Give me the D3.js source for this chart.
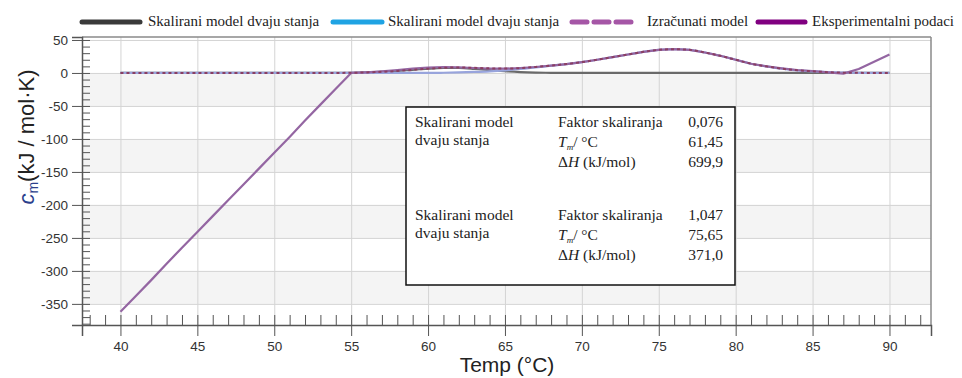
<!DOCTYPE html>
<html><head><meta charset="utf-8">
<script src="https://cdn.jsdelivr.net/npm/d3@7"></script>
<style>
html,body{margin:0;padding:0;background:#fff;}
svg{display:block;}
</style></head>
<body>
<svg id="chart" width="962" height="378"></svg>
<script>
// ---------- data ----------
const temps = [40,41,42,43,44,45,46,47,48,49,50,51,52,53,54,55,56,57,58,59,60,61,62,63,64,65,66,67,68,69,70,71,72,73,74,75,76,77,78,79,80,81,82,83,84,85,86,87,88,89,90];
const model1 = [0,0,0,0,0,0,0,0,0,0,0,0,0,0,0,0.3,0.8,1.7,3,4.8,6.5,7.5,7.5,6.3,4.5,2.7,1.4,0.6,0.2,0,0,0,0,0,0,0,0,0,0,0,0,0,0,0,0,0,0,0,0,0,0];
const model2 = [0,0,0,0,0,0,0,0,0,0,0,0,0,0,0,0,0,0,0,0,0,0.3,0.8,1.5,2.5,4,6,8.5,11,13.5,16.5,20,24,28,32,35,36,35,31,26,20,14,10,6.5,4,2.5,1.2,0.5,0.2,0,0];
const calcModel = [0,0,0,0,0,0,0,0,0,0,0,0,0,0,0,0.3,0.8,1.7,3,4.8,6.5,7.8,8.3,7.8,7,6.7,7.4,9.1,11.2,13.5,16.5,20,24,28,32,35,36,35,31,26,20,14,10,6.5,4,2.5,1.2,0.5,0.2,0,0];
const experimental = [-362,-338,-314,-289,-265,-241,-217,-193,-169,-145,-121,-97,-72,-48,-24,0,1,2.5,4.5,6.5,8,9,8.5,7.5,6.5,6.5,7.5,9,11,13.5,16.5,20,24,28,32,35,36,35,31,26,20,14,10,7,4.5,3,1,-1,6,17,28];

const xTicks = [40,45,50,55,60,65,70,75,80,85,90];
const yTicks = [50,0,-50,-100,-150,-200,-250,-300,-350];
const legendLabels = ["Skalirani model dvaju stanja","Skalirani model dvaju stanja","Izračunati model","Eksperimentalni podaci"];

const box1Values = ["0,076","61,45","699,9"];
const box2Values = ["1,047","75,65","371,0"];

// ---------- layout ----------
const svg = d3.select("#chart");
const L = 82, R = 931, T = 37, B = 325;
const x = d3.scaleLinear().domain([37.5, 92.7]).range([L, R]);
const y = d3.scaleLinear().domain([-382, 54.5]).range([B, T]);

// background bands
const bands = [[0,-50],[-100,-150],[-200,-250],[-300,-350]];
svg.append("g").selectAll("rect").data(bands).join("rect")
  .attr("x", L).attr("width", R - L)
  .attr("y", d => y(d[0])).attr("height", d => y(d[1]) - y(d[0]))
  .attr("fill", "#f4f4f4");

// grid
const grid = svg.append("g").attr("stroke", "#d4d4d4").attr("stroke-width", 1);
grid.selectAll(".vx").data(xTicks).join("line")
  .attr("x1", d => x(d)+0.5).attr("x2", d => x(d)+0.5).attr("y1", T).attr("y2", B);
grid.selectAll(".hy").data(yTicks).join("line")
  .attr("x1", L).attr("x2", R).attr("y1", d => y(d)+0.5).attr("y2", d => y(d)+0.5);

// border top/right
svg.append("line").attr("x1", L).attr("x2", R).attr("y1", T).attr("y2", T).attr("stroke", "#8a8a8a").attr("stroke-width", 1.5);
svg.append("line").attr("x1", R).attr("x2", R).attr("y1", T).attr("y2", B).attr("stroke", "#8a8a8a").attr("stroke-width", 1.5);

// axes
const tickFont = "'Liberation Sans', Arial, sans-serif";
const yAxis = d3.axisLeft(y).tickValues(yTicks).tickSize(10).tickPadding(4).tickFormat(d => String(d));
const gy = svg.append("g").attr("transform", `translate(${L},0)`).call(yAxis);
gy.select(".domain").attr("stroke", "#555").attr("stroke-width", 1.5);
gy.selectAll(".tick line").attr("stroke", "#555");
gy.selectAll("text").attr("font-family", tickFont).attr("font-size", 13.5).attr("fill", "#333");
const yMinor = d3.axisLeft(y).tickValues(d3.range(50, -381, -10)).tickSize(-8).tickFormat("");
const gym = svg.append("g").attr("transform", `translate(${L},0)`).call(yMinor);
gym.select(".domain").remove();
gym.selectAll(".tick line").attr("stroke", "#555");

const xAxis = d3.axisBottom(x).tickValues(xTicks).tickSize(11).tickPadding(5).tickFormat(d => String(d));
const gx = svg.append("g").attr("transform", `translate(0,${B})`).call(xAxis);
gx.select(".domain").attr("stroke", "#555").attr("stroke-width", 1.5);
gx.selectAll(".tick line").attr("stroke", "#555");
gx.selectAll("text").attr("font-family", tickFont).attr("font-size", 13.5).attr("fill", "#333");
const xMinor = d3.axisBottom(x).tickValues(d3.range(38, 93, 1)).tickSize(-10).tickFormat("");
const gxm = svg.append("g").attr("transform", `translate(0,${B})`).call(xMinor);
gxm.select(".domain").remove();
gxm.selectAll(".tick line").attr("stroke", "#555");

// axis titles
svg.append("text").attr("x", 507).attr("y", 372).attr("text-anchor", "middle")
  .attr("font-family", tickFont).attr("font-size", 21).attr("fill", "#222").text("Temp (°C)");
const yt = svg.append("text").attr("transform", "translate(34,137) rotate(-90)").attr("text-anchor", "middle")
  .attr("font-family", tickFont).attr("font-size", 22).attr("fill", "#222");
yt.append("tspan").attr("font-style", "italic").attr("fill", "#2b3f8c").text("c");
yt.append("tspan").attr("font-size", 14).attr("dy", 4).attr("fill", "#2b3f8c").text("m");
yt.append("tspan").attr("dy", -4).text("(kJ / mol·K)");

// lines
const curved = d3.line().x(d => x(d[0])).y(d => y(d[1])).curve(d3.curveMonotoneX);
const straight = d3.line().x(d => x(d[0])).y(d => y(d[1]));
const zip = arr => temps.map((t, i) => [t, arr[i]]);
svg.append("path").datum(zip(model1)).attr("d", curved).attr("fill", "none").attr("stroke", "#6a6a6a").attr("stroke-width", 2.2);
svg.append("path").datum(zip(model2)).attr("d", curved).attr("fill", "none").attr("stroke", "#98a4dc").attr("stroke-width", 2.2);
svg.append("path").datum(zip(experimental)).attr("d", straight).attr("fill", "none").attr("stroke", "#9466a2").attr("stroke-width", 2.2).attr("stroke-linejoin", "round");
svg.append("path").datum(zip(calcModel)).attr("d", curved).attr("fill", "none").attr("stroke", "#8a3e62").attr("stroke-width", 2).attr("stroke-dasharray", "3,3");

// legend
const serif = "'Liberation Serif', 'Times New Roman', serif";
const legendItems = [
  {x1: 82, x2: 140, tx: 148, color: "#3a3a3a", dash: null},
  {x1: 333, x2: 382, tx: 388, color: "#1fa3e3", dash: null},
  {x1: 572, x2: 637, tx: 647, color: "#a556a6", dash: "15,7"},
  {x1: 758, x2: 805, tx: 812, color: "#800080", dash: null}
];
const lg = svg.append("g");
legendItems.forEach((it, i) => {
  lg.append("line").attr("x1", it.x1).attr("x2", it.x2).attr("y1", 22).attr("y2", 22)
    .attr("stroke", it.color).attr("stroke-width", 5).attr("stroke-linecap", "round")
    .attr("stroke-dasharray", it.dash);
  lg.append("text").attr("x", it.tx).attr("y", 26).attr("font-family", serif).attr("font-size", 15)
    .attr("fill", "#222").text(legendLabels[i]);
});

// info box
const bx = svg.append("g");
bx.append("rect").attr("x", 406).attr("y", 107).attr("width", 329).attr("height", 178)
  .attr("fill", "#fff").attr("stroke", "#111").attr("stroke-width", 1.5);
function boxGroup(y0, vals) {
  const f = 15.5;
  bx.append("text").attr("x", 415).attr("y", y0).attr("font-family", serif).attr("font-size", f).attr("fill", "#222").text("Skalirani model");
  bx.append("text").attr("x", 415).attr("y", y0 + 18).attr("font-family", serif).attr("font-size", f).attr("fill", "#222").text("dvaju stanja");
  bx.append("text").attr("x", 558).attr("y", y0).attr("font-family", serif).attr("font-size", f).attr("fill", "#222").text("Faktor skaliranja");
  const t2 = bx.append("text").attr("x", 558).attr("y", y0 + 20).attr("font-family", serif).attr("font-size", f).attr("fill", "#222");
  t2.append("tspan").attr("font-style", "italic").text("T");
  t2.append("tspan").attr("font-style", "italic").attr("font-size", 9).attr("dy", 3).text("m");
  t2.append("tspan").attr("dy", -3).text("/ °C");
  const t3 = bx.append("text").attr("x", 558).attr("y", y0 + 40).attr("font-family", serif).attr("font-size", f).attr("fill", "#222");
  t3.append("tspan").text("Δ");
  t3.append("tspan").attr("font-style", "italic").text("H");
  t3.append("tspan").text(" (kJ/mol)");
  vals.forEach((v, i) => {
    bx.append("text").attr("x", 723).attr("y", y0 + i * 20).attr("text-anchor", "end")
      .attr("font-family", serif).attr("font-size", f).attr("fill", "#222").text(v);
  });
}
boxGroup(127, box1Values);
boxGroup(220, box2Values);
</script>
</body></html>
